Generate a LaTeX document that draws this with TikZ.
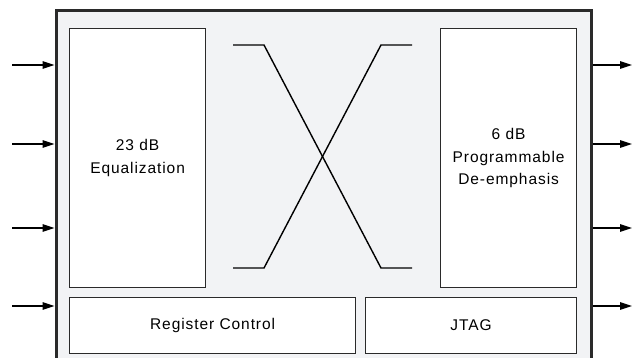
\documentclass[tikz,border=0pt]{standalone}
\usepackage{fontspec}
\setmainfont{Liberation Sans}[LetterSpace=6]
\usetikzlibrary{arrows.meta}
\definecolor{bgfill}{HTML}{F2F3F5}
\definecolor{edge}{HTML}{2A2A2A}
\tikzset{
  blockbox/.style={draw=edge, line width=1.2pt, fill=white, inner sep=0pt, align=center,
    font=\fontsize{15.5}{22.5}\selectfont},
  sigarrow/.style={line width=1.6pt, -{Triangle[length=12pt,width=7.5pt]}},
  xline/.style={line width=1.4pt, black},
}
\begin{document}
\begin{tikzpicture}[x=1pt,y=-1pt]
\useasboundingbox (0,0) rectangle (634,357);
\clip (0,0) rectangle (634,357);
\node[draw=edge, line width=3.2pt, fill=bgfill, minimum width=535pt, minimum height=360pt, anchor=north west, inner sep=0pt] (chip) at (54.5,9) {};
\node[blockbox, minimum width=136pt, minimum height=259pt, anchor=north west] (eq) at (69,28) {23 dB\\Equalization};
\node[blockbox, minimum width=136pt, minimum height=259pt, anchor=north west] (de) at (440,28) {6 dB\\Programmable\\De-emphasis};
\node[blockbox, minimum width=286pt, minimum height=56pt, anchor=north west] (reg) at (69,296.5) {Register Control};
\node[blockbox, minimum width=211pt, minimum height=56pt, anchor=north west] (jtag) at (365,296.5) {JTAG};
% crossbar
\draw[xline] (233,45) -- (264,45) -- (381,268) -- (412,268);
\draw[xline] (233,268) -- (264,268) -- (381,45) -- (412,45);
% inputs / outputs
\foreach \i/\y in {1/65,2/144,3/228,4/306}{
  \coordinate (in\i) at (12,\y);
  \coordinate (out\i) at (632,\y);
  \draw[sigarrow] (in\i) -- (in\i -| chip.west);
  \draw[sigarrow] (in\i -| chip.east) -- (out\i);
}
\end{tikzpicture}
\end{document}
